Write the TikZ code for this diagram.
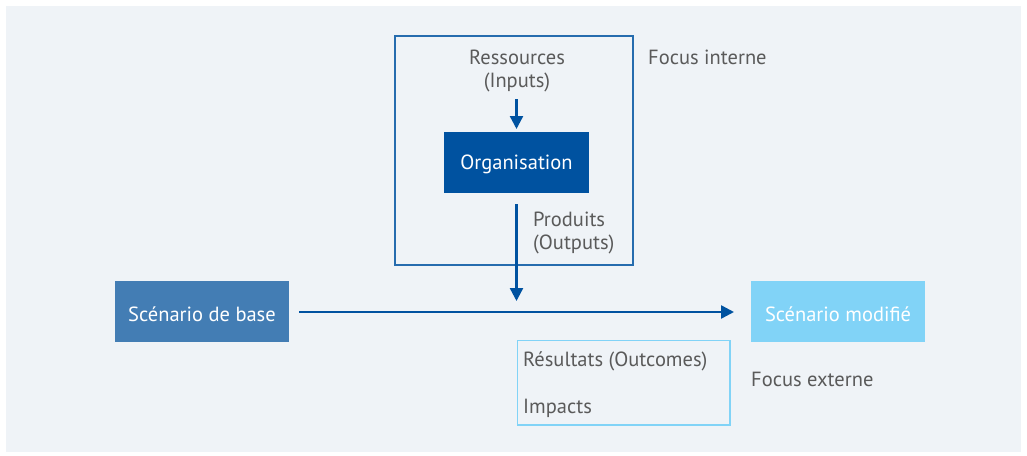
\documentclass[tikz,border=0pt]{standalone}
\usepackage{fontspec}
\setmainfont{PT Sans}
\usetikzlibrary{arrows.meta}
\definecolor{panel}{HTML}{EFF3F7}
\definecolor{darkblue}{HTML}{0052A0}
\definecolor{midblue}{HTML}{437DB4}
\definecolor{lightblue}{HTML}{81D3F7}
\definecolor{txt}{HTML}{5A5A5A}
\tikzset{
  lbl/.style={text=txt, font=\fontsize{20.5}{24}\selectfont, inner sep=0pt, yshift=-2pt},
  boxtxt/.style={text=white, font=\fontsize{20.5}{24}\selectfont, inner sep=0pt, yshift=-2pt},
  conn/.style={draw=darkblue, line width=2.4pt, -{Triangle[length=13pt,width=13pt]}},
}
\begin{document}
\begin{tikzpicture}[x=1pt,y=-1pt]
\useasboundingbox (0,0) rectangle (1027,455);
\fill[white] (0,0) rectangle (1027,455);
\fill[panel] (6,6) rectangle (1021,452);
% frames
\draw[darkblue!85, line width=1.6pt] (395,36) rectangle (633,265);
\draw[lightblue, line width=1.6pt] (517.5,340.5) rectangle (730,425);
% boxes
\fill[darkblue] (444,132) rectangle (589,193);
\node[boxtxt] (org) at (516.5,162.5) {Organisation};
\coordinate (orgbot) at (516.5,204);
\fill[midblue] (115,281) rectangle (289,342);
\node[boxtxt] (base) at (202,312) {Scénario de base};
\fill[lightblue] (751,281) rectangle (925,342);
\node[boxtxt] (mod) at (838,312) {Scénario modifié};
% labels
\node[lbl] (res) at (517,55) {Ressources};
\node[lbl] (inp) at (517,80) {(Inputs)};
\node[lbl, anchor=west] (prod) at (533,217) {Produits};
\node[lbl, anchor=west] (outp) at (533,242) {(Outputs)};
\node[lbl, anchor=west] (fi) at (648,55) {Focus interne};
\node[lbl, anchor=west] (fe) at (751,377) {Focus externe};
\node[lbl, anchor=west] (outc) at (523,359) {Résultats (Outcomes)};
\node[lbl, anchor=west] (imp) at (523,406) {Impacts};
% connectors
\coordinate (a1) at (516.5,99);
\coordinate (a1e) at (516.5,129);
\draw[conn] (a1) -- (a1e);
\coordinate (a2e) at (516.5,301);
\draw[conn] (orgbot) -- (a2e);
\coordinate (h1) at (299,312);
\coordinate (h2) at (734,312);
\draw[conn] (h1) -- (h2);
\end{tikzpicture}
\end{document}
